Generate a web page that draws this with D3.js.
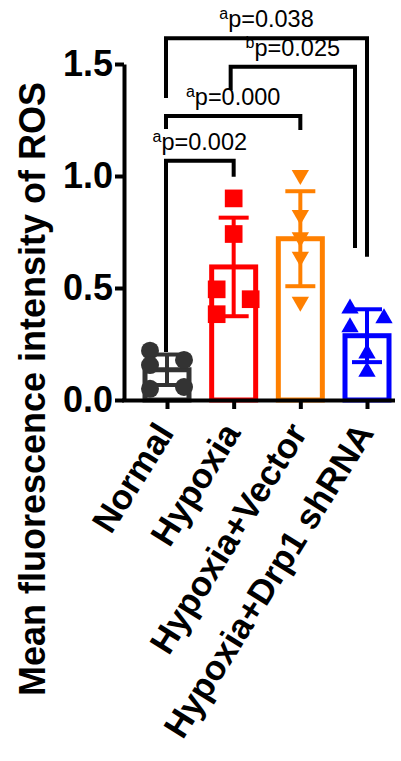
<!DOCTYPE html>
<html>
<head>
<meta charset="utf-8">
<script src="https://cdn.jsdelivr.net/npm/d3@7"></script>
<style>
  body { margin: 0; background: #fff; }
  svg text { font-family: "Liberation Sans", Arial, sans-serif; }
</style>
</head>
<body>
<div id="chart"></div>
<script>
// data
var groups = ["Normal", "Hypoxia", "Hypoxia+Vector", "Hypoxia+Drp1 shRNA"];
var means = [0.135, 0.594, 0.72, 0.287];
var sds = [0.068, 0.22, 0.212, 0.118];
var normalPts = [0.22, 0.156, 0.179, 0.05, 0.058];
var hypoxiaPts = [0.90, 0.741, 0.494, 0.45, 0.383];
var vectorPts = [1.004, 0.826, 0.726, 0.64, 0.439];
var shrnaPts = [0.409, 0.325, 0.365, 0.208, 0.126];
// scatter column of each point (-1 left, 0 middle, 1 right)
var normalCol = [-1, -1, 1, -1, 1];
var hypoxiaCol = [0, 0, -1, 1, -1];
var vectorCol = [0, 0, 0, 0, 0];
var shrnaCol = [-1, -1, 1, 0, 0];
var yTicks = [0, 0.5, 1.0, 1.5];
// significance brackets: groups, bar level, leg ends (data units)
var brackets = [
  {a: 0, b: 1, level: 1.068, endA: 0.214, endB: 0.997, sup: "a", p: "0.002"},
  {a: 0, b: 2, level: 1.268, endA: 1.21, endB: 1.205, sup: "a", p: "0.000"},
  {a: 1, b: 3, level: 1.488, endA: 1.384, endB: 0.679, sup: "b", p: "0.025", offA: -2, offB: -12},
  {a: 0, b: 3, level: 1.615, endA: 1.348, endB: 0.64, sup: "a", p: "0.038"}
];

var colors = ["#333333", "#ff0000", "#ff8000", "#0000ff"];
var shapes = [d3.symbolCircle, d3.symbolSquare, d3.symbolTriangle, d3.symbolTriangle];
var shapeSize = [254, 313, 130, 130];

var W = 401, H = 761;
var svg = d3.select("#chart").append("svg")
  .attr("width", W).attr("height", H);

var x = d3.scalePoint().domain(groups).range([167, 367]);
var y = d3.scaleLinear().domain([0, 1.5]).range([400, 64]);

var barW = 44, capW = 30, spread = 17;

var allPts = [normalPts, hypoxiaPts, vectorPts, shrnaPts];
var allCols = [normalCol, hypoxiaCol, vectorCol, shrnaCol];

// bars
svg.selectAll(".bar")
  .data(groups)
  .enter().append("rect")
  .attr("class", "bar")
  .attr("x", function(d){ return x(d) - barW / 2; })
  .attr("y", function(d, i){ return y(means[i]); })
  .attr("width", barW)
  .attr("height", function(d, i){ return y(0) - y(means[i]); })
  .attr("fill", "#fff")
  .attr("stroke", function(d, i){ return colors[i]; })
  .attr("stroke-width", 5);

// error bars
var eb = svg.selectAll(".err")
  .data(groups)
  .enter().append("g")
  .attr("class", "err")
  .attr("stroke", function(d, i){ return colors[i]; })
  .attr("stroke-width", 4);
eb.append("line")
  .attr("x1", function(d){ return x(d); })
  .attr("x2", function(d){ return x(d); })
  .attr("y1", function(d, i){ return y(means[i] - sds[i]); })
  .attr("y2", function(d, i){ return y(means[i] + sds[i]); });
eb.append("line")
  .attr("x1", function(d){ return x(d) - capW / 2; })
  .attr("x2", function(d){ return x(d) + capW / 2; })
  .attr("y1", function(d, i){ return y(means[i] + sds[i]); })
  .attr("y2", function(d, i){ return y(means[i] + sds[i]); });
eb.append("line")
  .attr("x1", function(d){ return x(d) - capW / 2; })
  .attr("x2", function(d){ return x(d) + capW / 2; })
  .attr("y1", function(d, i){ return y(means[i] - sds[i]); })
  .attr("y2", function(d, i){ return y(means[i] - sds[i]); });

// points
groups.forEach(function(g, gi){
  svg.selectAll(".pt" + gi)
    .data(allPts[gi])
    .enter().append("path")
    .attr("class", "pt" + gi)
    .attr("d", d3.symbol().type(shapes[gi]).size(shapeSize[gi]))
    .attr("transform", function(v, j){
      var t = "translate(" + (x(g) + allCols[gi][j] * spread) + "," + y(v) + ")";
      return gi === 2 ? t + " rotate(180)" : t;
    })
    .attr("fill", colors[gi]);
});

// y axis
var yAxis = svg.append("g")
  .attr("transform", "translate(124,0)")
  .call(d3.axisLeft(y).tickValues(yTicks).tickFormat(d3.format(".1f"))
    .tickSize(9).tickSizeOuter(0).tickPadding(2));
yAxis.select(".domain").attr("stroke-width", 4);
yAxis.selectAll(".tick line").attr("stroke-width", 4);
yAxis.selectAll(".tick text")
  .attr("font-size", 36).attr("font-weight", "bold")
  .attr("font-family", "'Liberation Sans', Arial, sans-serif")
  .attr("fill", "#000");

// x axis
var xAxis = svg.append("g")
  .attr("transform", "translate(0,400)")
  .call(d3.axisBottom(x).tickSize(9).tickSizeOuter(0).tickFormat(""));
xAxis.select(".domain").attr("d", "M122,0.5H395").attr("stroke-width", 4);
xAxis.selectAll(".tick line").attr("stroke-width", 4);

svg.selectAll(".xlab")
  .data(groups)
  .enter().append("text")
  .attr("class", "xlab")
  .attr("transform", function(d){ return "translate(" + (x(d) + 8) + ",433) rotate(-58)"; })
  .attr("text-anchor", "end")
  .attr("font-size", 35)
  .attr("font-weight", "bold")
  .text(function(d){ return d; });

// y title
svg.append("text")
  .attr("transform", "translate(45,389) rotate(-90)")
  .attr("text-anchor", "middle")
  .attr("font-size", 36)
  .attr("font-weight", "bold")
  .text("Mean fluorescence intensity of ROS");

// brackets
brackets.forEach(function(b){
  var xa = x(groups[b.a]) - 1 + (b.offA || 0);
  var xb = x(groups[b.b]) + (b.offB || 0);
  svg.append("path")
    .attr("d", "M" + xa + "," + y(b.endA) + "V" + y(b.level) + "H" + xb + "V" + y(b.endB))
    .attr("fill", "none")
    .attr("stroke", "#000")
    .attr("stroke-width", 4);
  var t = svg.append("text")
    .attr("x", (xa + xb) / 2)
    .attr("y", y(b.level) - 11)
    .attr("text-anchor", "middle")
    .attr("font-size", 23.5);
  t.append("tspan").attr("font-size", 16).attr("dy", -8).text(b.sup);
  t.append("tspan").attr("dy", 8).text("p=" + b.p);
});
</script>
</body>
</html>
